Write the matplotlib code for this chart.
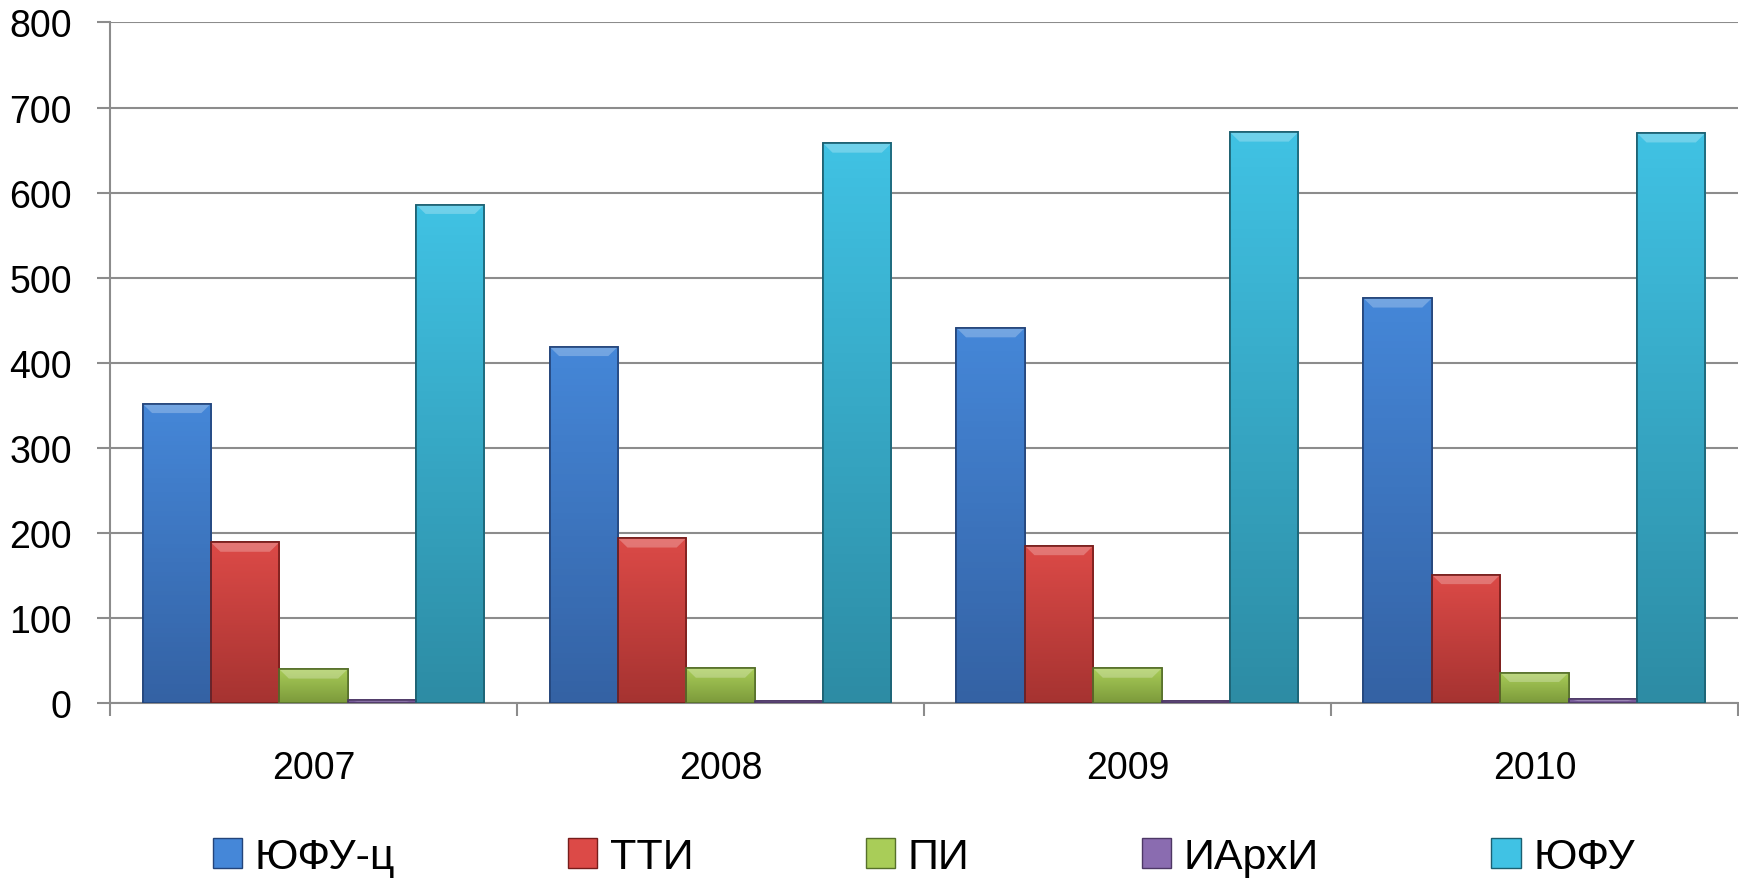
import numpy as np
import matplotlib
matplotlib.use("Agg")
import matplotlib.pyplot as plt
from matplotlib.colors import LinearSegmentedColormap
from matplotlib.patches import Rectangle, Polygon

plt.rcParams['font.family'] = ['Liberation Sans', 'DejaVu Sans']

years = ["2007", "2008", "2009", "2010"]
series = ["ЮФУ-ц", "ТТИ", "ПИ", "ИАрхИ", "ЮФУ"]
yufu_c = [352, 419, 441, 476]
tti = [189, 194, 185, 151]
pi = [40, 41, 41, 36]
iarhi = [4, 3, 3, 5]
yufu = [586, 658, 671, 670]

# top colour, bottom colour, edge colour
colors = [
    ("#4587d8", "#3462a4", "#23447a"),
    ("#dc4a47", "#a63331", "#761d1b"),
    ("#a9cd58", "#7c9a3b", "#56702a"),
    ("#8a6cb0", "#6a4f8a", "#4d3866"),
    ("#40c2e4", "#2d8ca4", "#1b5f70"),
]

fig = plt.figure(figsize=(17.4, 8.79), dpi=100)
ax = fig.add_axes([0.0632, 0.1988, 0.9356, 0.7745])

x = np.arange(len(years))
w = 0.168
values = [yufu_c, tti, pi, iarhi, yufu]

for i, (name, vals) in enumerate(zip(series, values)):
    top, bottom, edge = colors[i]
    bars = ax.bar(x + (i - 2) * w, vals, width=w, color=bottom, edgecolor=edge,
                  linewidth=1.2, zorder=3, label=name)
    cmap = LinearSegmentedColormap.from_list("g%d" % i, [bottom, top])
    grad = np.linspace(0, 1, 64).reshape(-1, 1)
    for p in bars:
        x0, y0 = p.get_x(), p.get_y()
        bw, bh = p.get_width(), p.get_height()
        im = ax.imshow(grad, extent=[x0, x0 + bw, y0, y0 + bh], aspect='auto',
                       cmap=cmap, origin='lower', zorder=3.5)
        im.set_clip_path(p)
        # small bevel on the top of the bar
        bev = min(11, bh * 0.5)
        dx = bw * 0.14
        ax.add_patch(Polygon([[x0, y0 + bh], [x0 + bw, y0 + bh],
                              [x0 + bw - dx, y0 + bh - bev], [x0 + dx, y0 + bh - bev]],
                             closed=True, facecolor="white", alpha=0.25,
                             edgecolor="none", zorder=3.7))
        ax.add_patch(Rectangle((x0, y0), bw, bh, fill=False, edgecolor=edge,
                               linewidth=1.2, zorder=3.8))

ax.set_xlim(-0.5, 3.5)
ax.set_ylim(0, 800)
ax.set_yticks(range(0, 801, 100))
ax.set_xticks(np.arange(-0.5, 4, 1))
ax.set_xticklabels([])
ax.set_xticks(x, minor=True)
ax.set_xticklabels(years, minor=True)

ax.grid(axis='y', color="#8c8c8c", linewidth=1.5, zorder=0)
for s in ["top", "right"]:
    ax.spines[s].set_visible(False)
for s in ["left", "bottom"]:
    ax.spines[s].set_color("#8c8c8c")
    ax.spines[s].set_linewidth(1.5)
    ax.spines[s].set_zorder(2)

ax.tick_params(axis='y', which='major', length=9.5, width=1.5, color="#8c8c8c",
               labelsize=27, pad=18)
ax.tick_params(axis='x', which='major', length=9, width=1.5, color="#8c8c8c")
ax.tick_params(axis='x', which='minor', length=0, labelsize=27, pad=34)

handles = [Rectangle((0, 0), 1, 1, facecolor=c[0], edgecolor=c[2], linewidth=1)
           for c in colors]
ax.legend(handles, series, loc='center', bbox_to_anchor=(0.5, -0.226), ncol=5,
          frameon=False, fontsize=31, handlelength=0.68, handleheight=0.68,
          handletextpad=0.3, columnspacing=4.0, borderpad=0)

fig.savefig("out.png", dpi=100)
